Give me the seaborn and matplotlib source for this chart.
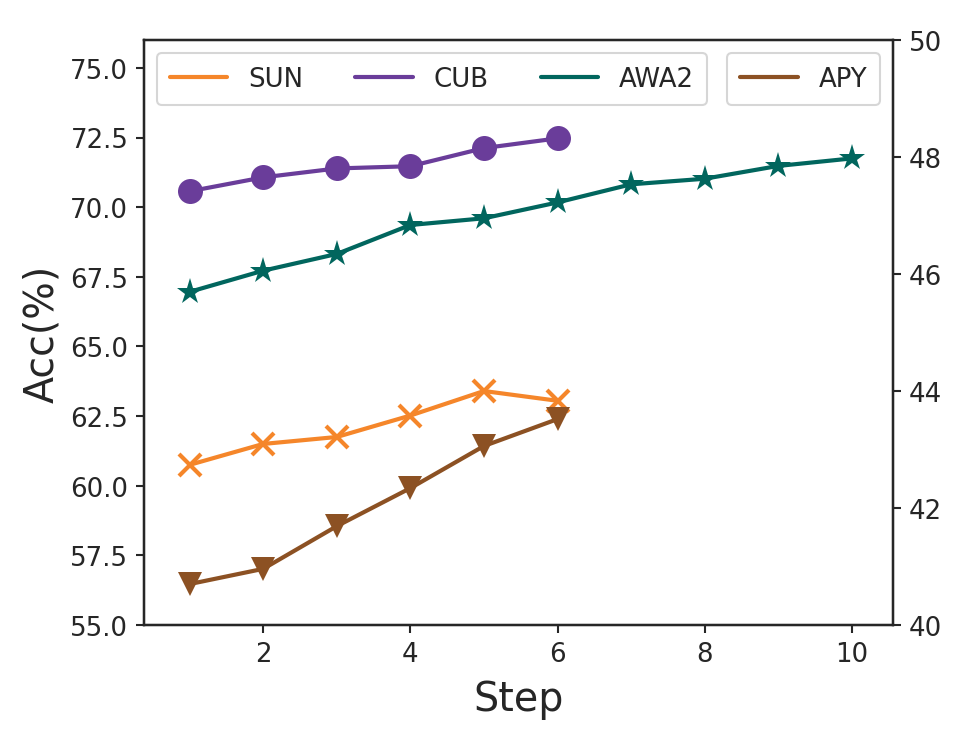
import numpy as np
import pandas as pd
import matplotlib
matplotlib.use('Agg')
import matplotlib.pyplot as plt
import seaborn as sns

# values
steps = [1, 2, 3, 4, 5, 6, 7, 8, 9, 10]
sun = [60.75, 61.5, 61.75, 62.52, 63.4, 63.05]
cub = [70.57, 71.07, 71.39, 71.47, 72.12, 72.47]
awa2 = [66.96, 67.72, 68.32, 69.36, 69.6, 70.17, 70.82, 71.02, 71.48, 71.75]
apy = [40.70, 40.96, 41.69, 42.34, 43.06, 43.52]

colors = {'SUN': '#f5862a', 'CUB': '#6a3d9a', 'AWA2': '#01665e', 'APY': '#8c5123'}
markers = {'SUN': 'x', 'CUB': 'o', 'AWA2': '*', 'APY': 'v'}

left = pd.concat([
    pd.DataFrame({'Step': steps[:len(sun)], 'Acc': sun, 'Dataset': 'SUN'}),
    pd.DataFrame({'Step': steps[:len(cub)], 'Acc': cub, 'Dataset': 'CUB'}),
    pd.DataFrame({'Step': steps[:len(awa2)], 'Acc': awa2, 'Dataset': 'AWA2'}),
])
right = pd.DataFrame({'Step': steps[:len(apy)], 'Acc': apy, 'Dataset': 'APY'})

sns.set_style('ticks')
plt.rcParams['font.family'] = ['DejaVu Sans']

fig = plt.figure(figsize=(6.46, 4.993), dpi=150)
ax = fig.add_axes([0.1486, 0.1642, 0.7730, 0.7811])
ax2 = ax.twinx()

sizes = {'SUN': 11, 'CUB': 12, 'AWA2': 13}
for name in ['SUN', 'CUB', 'AWA2']:
    sub = left[left['Dataset'] == name]
    sns.lineplot(data=sub, x='Step', y='Acc', ax=ax, color=colors[name],
                 marker=markers[name], markersize=sizes[name],
                 markeredgewidth=2 if name == 'SUN' else 0,
                 markeredgecolor=colors[name], linewidth=2, label=name)

sns.lineplot(data=right, x='Step', y='Acc', ax=ax2, color=colors['APY'],
             marker=markers['APY'], markersize=11.5, markeredgewidth=0,
             linewidth=2, label='APY')

ax.set_xlim(0.38, 10.56)
ax.set_ylim(55, 76)
ax.set_yticks([55.0, 57.5, 60.0, 62.5, 65.0, 67.5, 70.0, 72.5, 75.0])
ax.set_yticklabels([f'{v:.1f}' for v in ax.get_yticks()])
ax2.set_ylim(40, 50)
ax2.set_yticks([40, 42, 44, 46, 48, 50])
ax.set_xticks([2, 4, 6, 8, 10])

ax.set_xlabel('Step', fontsize=19, labelpad=6)
ax.set_ylabel('Acc(%)', fontsize=19)
ax2.set_ylabel('')
for a in (ax, ax2):
    a.tick_params(labelsize=12.5, length=4, width=1)
    for s in a.spines.values():
        s.set_linewidth(1.1)
        s.set_color('#262626')

# legends show only the line
h, l = ax.get_legend_handles_labels()
leg1 = ax.legend(h, l, loc='upper left', ncol=3, fontsize=12.5, handlelength=2.2,
                 columnspacing=2.0, frameon=True, borderpad=0.5)
for line in leg1.get_lines():
    line.set_marker('')
h2, l2 = ax2.get_legend_handles_labels()
leg2 = ax2.legend(h2, l2, loc='upper right', fontsize=12.5, handlelength=2.2,
                  frameon=True, borderpad=0.5)
for line in leg2.get_lines():
    line.set_marker('')

fig.savefig('out.png', dpi=150)
